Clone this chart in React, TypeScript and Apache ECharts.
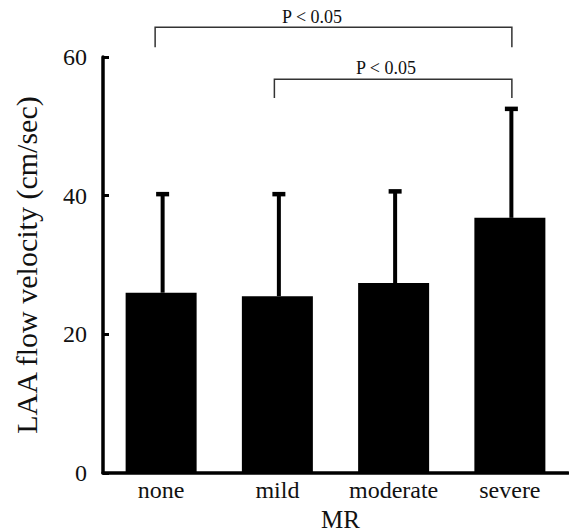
import React, { useEffect, useRef } from "react";
import * as echarts from "echarts";

const categories = ["none", "mild", "moderate", "severe"];
const means = [26.0, 25.5, 27.4, 36.8];
const upperSD = [40.4, 40.4, 40.8, 52.7];
const yTicks = [0, 20, 40, 60];
const bracketFrom = [0, 1];
const bracketTo = [3, 3];
const bracketLabels = ["P < 0.05", "P < 0.05"];

const FONT = "'Liberation Serif', 'Times New Roman', serif";

export default function App() {
  const ref = useRef<HTMLDivElement>(null);
  useEffect(() => {
    document.body.style.margin = "0";
    const chart = echarts.init(ref.current!, null, { renderer: "svg" });
    const bracketLevels = [
      { top: 64.3, bottom: 61.4, text: 65.8, frac: 0.44 },
      { top: 56.8, bottom: 54.1, text: 58.4, frac: 0.47 },
    ];
    chart.setOption({
      animation: false,
      grid: { left: 103, right: 1, top: 57, bottom: 59, outerBoundsMode: "none", containLabel: false },
      xAxis: {
        type: "category",
        data: categories,
        name: "MR",
        nameLocation: "middle",
        nameGap: 21,
        nameTextStyle: { fontFamily: FONT, fontSize: 25, color: "#111", padding: [0, 0, 0, 10], lineHeight: 26 },
        axisLine: { lineStyle: { color: "#000", width: 3.5 } },
        axisTick: { inside: true, length: 6, lineStyle: { color: "#000", width: 3 }, alignWithLabel: false, interval: 0 },
        axisLabel: { fontFamily: FONT, fontSize: 24, color: "#111", margin: 5, interval: 0 },
      },
      yAxis: {
        type: "value",
        min: 0,
        max: 60,
        interval: 20,
        name: "LAA flow velocity (cm/sec)",
        nameLocation: "middle",
        nameGap: 62,
        nameTextStyle: { fontFamily: FONT, fontSize: 30, color: "#111" },
        axisLine: { show: true, lineStyle: { color: "#000", width: 3.5 } },
        axisTick: { show: true, inside: true, length: 6, lineStyle: { color: "#000", width: 3 } },
        axisLabel: {
          fontFamily: FONT,
          fontSize: 24,
          color: "#111",
          margin: 16,
          formatter: (v: number) => (yTicks.includes(v) ? String(v) : ""),
        },
        splitLine: { show: false },
      },
      series: [
        {
          type: "bar",
          data: means,
          barWidth: 71,
          itemStyle: { color: "#000" },
          z: 2,
        },
        {
          type: "custom",
          data: categories.map((_, i) => [i, means[i], upperSD[i]]),
          encode: { x: 0, y: [1, 2] },
          z: 3,
          clip: false,
          renderItem: (params: any, api: any) => {
            const base = api.coord([api.value(0), api.value(1)]);
            const top = api.coord([api.value(0), api.value(2)]);
            const x = top[0] + 1.5;
            return {
              type: "group",
              children: [
                {
                  type: "rect",
                  shape: { x: x - 2, y: top[1], width: 4, height: base[1] - top[1] },
                  style: { fill: "#000" },
                },
                {
                  type: "rect",
                  shape: { x: x - 6.5, y: top[1] - 1, width: 13, height: 4.5 },
                  style: { fill: "#000" },
                },
              ],
            };
          },
        },
        {
          type: "custom",
          data: bracketFrom.map((f, i) => [f, bracketTo[i], i]),
          encode: { x: [0, 1] },
          z: 4,
          clip: false,
          renderItem: (params: any, api: any) => {
            const idx = params.dataIndex;
            const lv = bracketLevels[idx];
            const p1 = api.coord([api.value(0), lv.top]);
            const p2 = api.coord([api.value(1), lv.top]);
            const b1 = api.coord([api.value(0), lv.bottom]);
            const t = api.coord([api.value(0), lv.text]);
            const x1 = p1[0] - (idx === 0 ? 6 : 3);
            const x2 = p2[0] + 2;
            return {
              type: "group",
              children: [
                {
                  type: "polyline",
                  shape: {
                    points: [
                      [x1, b1[1]],
                      [x1, p1[1]],
                      [x2, p2[1]],
                      [x2, b1[1]],
                    ],
                  },
                  style: { stroke: "#333", lineWidth: 1.5, fill: "none" },
                },
                {
                  type: "text",
                  x: x1 + (x2 - x1) * lv.frac,
                  y: t[1],
                  style: {
                    text: bracketLabels[idx],
                    fontFamily: FONT,
                    fontSize: 18,
                    fill: "#111",
                    align: "center",
                    verticalAlign: "middle",
                  },
                },
              ],
            };
          },
        },
      ],
    });
    return () => chart.dispose();
  }, []);
  return <div ref={ref} style={{ width: 569, height: 532 }} />;
}
